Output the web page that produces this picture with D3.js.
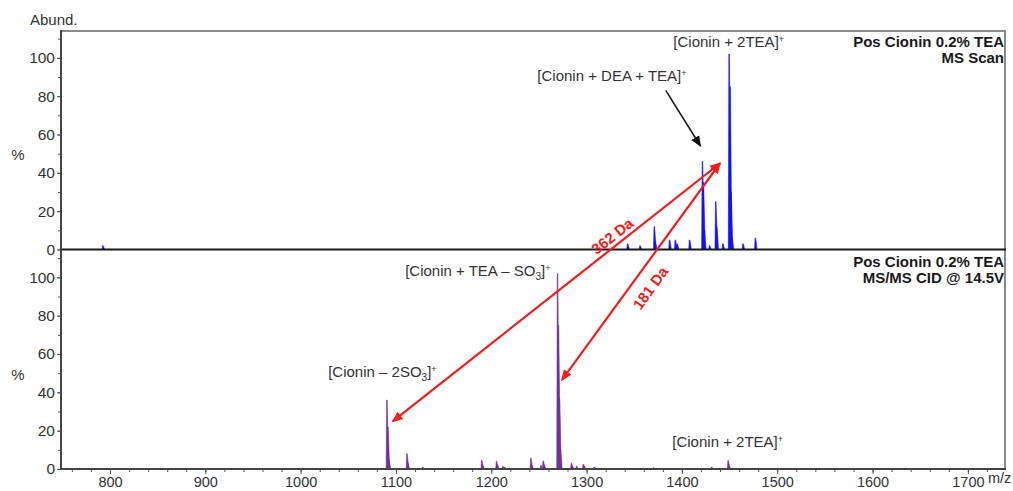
<!DOCTYPE html>
<html>
<head>
<meta charset="utf-8">
<script src="https://cdn.jsdelivr.net/npm/d3@7"></script>
<style>
  body { margin: 0; background: #fff; }
  svg { display: block; font-family: "Liberation Sans", Arial, sans-serif; }
</style>
</head>
<body>
<svg id="chart" width="1013" height="491"></svg>
<script>
// ---- data -------------------------------------------------------------
const xTickValues = [800, 900, 1000, 1100, 1200, 1300, 1400, 1500, 1600, 1700];
const yTickValues = [0, 20, 40, 60, 80, 100];

// MS scan (top panel): m/z and relative abundance (%)
const msMz     = [792.5, 1343, 1356, 1371, 1372, 1387, 1393, 1395, 1408, 1421.5, 1422.5, 1423.5, 1429, 1435.5, 1436.5, 1443, 1449.5, 1450.5, 1451.5, 1452.5, 1464, 1477];
const msAbund  = [2,     3,    2,    12,   4,    5,    5,    3,    5,    46,     35,     10,     2,    25,     12,     3,    102,    85,     30,     6,      3,    6];

// MS/MS CID @ 14.5 V (bottom panel)
const cidMz    = [1090.5, 1091.5, 1092.5, 1111.5, 1112.5, 1128, 1190, 1191, 1205.5, 1206.5, 1212, 1214, 1241.5, 1242.5, 1252, 1254.5, 1255.5, 1269.5, 1270.5, 1271.5, 1272.5, 1284, 1285, 1289.5, 1296.5, 1297.5, 1308, 1370, 1431, 1448.5, 1449.5];
const cidAbund = [36,     22,     5,      8,      3,      1,    4.5,  2,    4,      2,      1.5,  1,    5.6,    2,      2,    4.2,    2,      102,    75,     37,     10,     3,    1.5,  1.5,    2.5,    1.5,    1,    0.7,  1,    4.5,    1.5];

// neutral-loss arrows: [m/z, %] in top panel -> [m/z, %] in bottom panel
const loss362 = { label: "362 Da", from: [1440, 45], to: [1096.5, 24.8], labelAt: [1327, 7.0] };
const loss181 = { label: "181 Da", from: [1440, 45], to: [1274, 46.4],   labelAt: [1367, 94.4] };

// ---- layout -----------------------------------------------------------
const svg = d3.select("#chart");
const plotLeft = 61, plotRight = 1006, plotTop = 31, plotMid = 250, plotBottom = 469;

const x    = d3.scaleLinear().domain([748.6, 1740]).range([plotLeft, plotRight]);
const yTop = d3.scaleLinear().domain([0, 114]).range([249.5, plotTop]);
const yBot = d3.scaleLinear().domain([0, 114]).range([plotBottom, plotMid + 0.5]);

const textCol = "#333";

const defs = svg.append("defs");
defs.append("clipPath").attr("id", "plotClip")
  .append("rect").attr("x", plotLeft).attr("y", plotTop)
  .attr("width", plotRight - plotLeft).attr("height", plotBottom - plotTop);

// ---- y axes -----------------------------------------------------------
function yAxis(scale) {
  const gMinor = svg.append("g").attr("transform", `translate(${plotLeft},0)`)
    .call(d3.axisLeft(scale).tickValues(d3.range(0, 111, 10)).tickSize(3).tickFormat(""));
  gMinor.select(".domain").remove();
  gMinor.selectAll("line").attr("stroke", "#555");
  const gMajor = svg.append("g").attr("transform", `translate(${plotLeft},0)`)
    .call(d3.axisLeft(scale).tickValues(yTickValues).tickSize(4).tickPadding(2));
  gMajor.select(".domain").remove();
  gMajor.selectAll("line").attr("stroke", "#555");
  gMajor.selectAll("text").attr("font-size", 15.5).attr("fill", textCol)
    .attr("font-family", "Liberation Sans, Arial, sans-serif");
}
yAxis(yTop);
yAxis(yBot);

// ---- x axis -----------------------------------------------------------
const gxMinor = svg.append("g").attr("transform", `translate(0,${plotBottom})`)
  .call(d3.axisBottom(x).tickValues(d3.range(760, 1740, 20)).tickSize(3).tickFormat(""));
gxMinor.select(".domain").remove();
gxMinor.selectAll("line").attr("stroke", "#555");
const gx = svg.append("g").attr("transform", `translate(0,${plotBottom})`)
  .call(d3.axisBottom(x).tickValues(xTickValues).tickSize(5).tickPadding(3).tickFormat(d3.format("d")));
gx.select(".domain").remove();
gx.selectAll("line").attr("stroke", "#555");
gx.selectAll("text").attr("font-size", 14.5).attr("fill", textCol)
  .attr("font-family", "Liberation Sans, Arial, sans-serif");

svg.append("text").attr("x", 988).attr("y", 483).attr("font-size", 14.5).attr("fill", textCol).text("m/z");

// ---- peaks ------------------------------------------------------------
const peakLine = d3.line();
function drawPeaks(mz, ab, yScale, color) {
  const peaks = mz.map((m, i) => ({ m, h: ab[i] }));
  svg.append("g").attr("clip-path", "url(#plotClip)")
    .selectAll("path").data(peaks).join("path")
    .attr("d", d => peakLine([
      [x(d.m - 0.8), yScale(0)],
      [x(d.m - 0.25), yScale(d.h)],
      [x(d.m + 0.3), yScale(d.h)],
      [x(d.m + 1.9), yScale(0)]
    ]) + "Z")
    .attr("fill", color)
    .attr("stroke", color)
    .attr("stroke-width", 0.6);
}
drawPeaks(msMz, msAbund, yTop, "#1010ff");
drawPeaks(cidMz, cidAbund, yBot, "#7030a0");

// ---- frame ------------------------------------------------------------
svg.append("line").attr("x1", plotLeft).attr("x2", plotRight).attr("y1", plotTop).attr("y2", plotTop)
  .attr("stroke", "#8a8a8a").attr("stroke-width", 2);
svg.append("line").attr("x1", plotRight - 1).attr("x2", plotRight - 1).attr("y1", plotTop).attr("y2", plotBottom)
  .attr("stroke", "#8a8a8a").attr("stroke-width", 2);
svg.append("line").attr("x1", plotLeft).attr("x2", plotRight).attr("y1", 249.5).attr("y2", 249.5)
  .attr("stroke", "#1a1a1a").attr("stroke-width", 2);
svg.append("line").attr("x1", plotLeft).attr("x2", plotRight).attr("y1", plotBottom).attr("y2", plotBottom)
  .attr("stroke", "#444").attr("stroke-width", 2);
svg.append("line").attr("x1", plotLeft).attr("x2", plotLeft).attr("y1", plotTop - 1).attr("y2", plotBottom + 1)
  .attr("stroke", "#444").attr("stroke-width", 2);

// ---- axis titles ------------------------------------------------------
svg.append("text").attr("x", 30).attr("y", 25).attr("font-size", 15).attr("fill", textCol).text("Abund.");
svg.append("text").attr("x", 18).attr("y", 160).attr("text-anchor", "middle").attr("font-size", 15).attr("fill", textCol).text("%");
svg.append("text").attr("x", 18).attr("y", 380).attr("text-anchor", "middle").attr("font-size", 15).attr("fill", textCol).text("%");

// ---- panel titles -----------------------------------------------------
function panelTitle(lines, y0) {
  lines.forEach((t, i) => {
    svg.append("text").attr("x", 1004).attr("y", y0 + i * 16)
      .attr("text-anchor", "end").attr("font-size", 15).attr("font-weight", "bold")
      .attr("fill", "#1a1a1a").text(t);
  });
}
panelTitle(["Pos Cionin 0.2% TEA", "MS Scan"], 47);
panelTitle(["Pos Cionin 0.2% TEA", "MS/MS CID @ 14.5V"], 267);

// ---- ion labels (text pieces: [string, "sup"|"sub"|null]) -------------
const ionLabels = [
  { panel: "top", at: [1391, 105.6], parts: [["[Cionin + 2TEA]", null], ["+", "sup"]] },
  { panel: "top", at: [1248.3, 87.9], parts: [["[Cionin + DEA + TEA]", null], ["+", "sup"]] },
  { panel: "bot", at: [1109.7, 100.7], parts: [["[Cionin + TEA \u2013 SO", null], ["3", "sub"], ["]", null], ["+", "sup"]] },
  { panel: "bot", at: [1028.9, 48.0], parts: [["[Cionin \u2013 2SO", null], ["3", "sub"], ["]", null], ["+", "sup"]] },
  { panel: "bot", at: [1389.9, 11.5], parts: [["[Cionin + 2TEA]", null], ["+", "sup"]] }
];
ionLabels.forEach(l => {
  const ys = l.panel === "top" ? yTop : yBot;
  const t = svg.append("text").attr("x", x(l.at[0])).attr("y", ys(l.at[1]))
    .attr("font-size", 15).attr("fill", textCol);
  let shift = 0;
  l.parts.forEach(([s, kind]) => {
    const target = kind === "sup" ? -5 : kind === "sub" ? 4 : 0;
    t.append("tspan").attr("dy", target - shift)
      .attr("font-size", kind === "sup" ? 9 : kind === "sub" ? 10 : 15).text(s);
    shift = target;
  });
});

// ---- arrows -----------------------------------------------------------
function marker(id, color) {
  defs.append("marker").attr("id", id).attr("viewBox", "0 0 10 10")
    .attr("refX", 9).attr("refY", 5).attr("markerWidth", 11).attr("markerHeight", 11)
    .attr("markerUnits", "userSpaceOnUse").attr("orient", "auto-start-reverse")
    .append("path").attr("d", "M0,0.8 L10,5 L0,9.2 Z").attr("fill", color);
}
marker("headRed", "#f41c1c");
marker("headBlack", "#111");

// black pointer to the DEA/TEA adduct
svg.append("line")
  .attr("x1", x(1383)).attr("y1", yTop(83))
  .attr("x2", x(1419.5)).attr("y2", yTop(54))
  .attr("stroke", "#111").attr("stroke-width", 1.5)
  .attr("marker-end", "url(#headBlack)");

[loss362, loss181].forEach(a => {
  const x1 = x(a.from[0]), y1 = yTop(a.from[1]);
  const x2 = x(a.to[0]),   y2 = yBot(a.to[1]);
  svg.append("line").attr("x1", x1).attr("y1", y1).attr("x2", x2).attr("y2", y2)
    .attr("stroke", "#f41c1c").attr("stroke-width", 2.2)
    .attr("marker-start", "url(#headRed)").attr("marker-end", "url(#headRed)");
  const ang = Math.atan((y2 - y1) / (x2 - x1)) * 180 / Math.PI;
  const lx = x(a.labelAt[0]);
  const ly = a === loss362 ? yTop(a.labelAt[1]) : yBot(a.labelAt[1]);
  svg.append("text").attr("transform", `translate(${lx},${ly}) rotate(${ang})`)
    .attr("text-anchor", "middle").attr("dy", "0.35em")
    .attr("font-size", 15).attr("font-weight", "bold").attr("fill", "#f41c1c")
    .text(a.label);
});
</script>
</body>
</html>
